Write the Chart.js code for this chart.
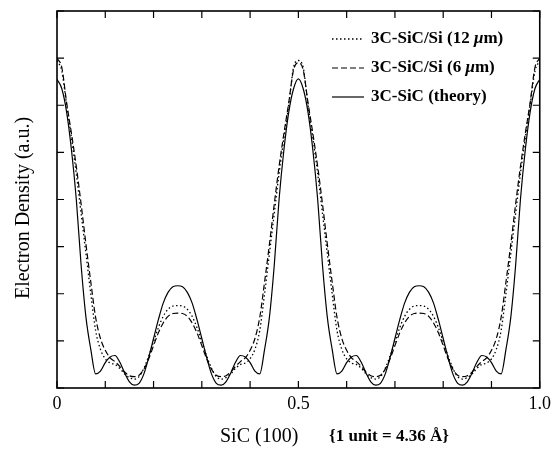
<!DOCTYPE html>
<html><head><meta charset="utf-8">
<script src="https://cdn.jsdelivr.net/npm/chart.js@4.4.0/dist/chart.umd.min.js"></script>
<style>html,body{margin:0;padding:0;background:#fff;}</style>
</head><body>
<canvas id="c" width="556" height="451"></canvas>
<script>
const xValues = [0.00,0.01,0.02,0.03,0.04,0.05,0.06,0.07,0.08,0.09,0.10,0.11,0.12,0.13,0.14,0.15,0.16,0.17,0.18,0.19,0.20,0.21,0.22,0.23,0.24,0.25,0.26,0.27,0.28,0.29,0.30,0.31,0.32,0.33,0.34,0.35,0.36,0.37,0.38,0.39,0.40,0.41,0.42,0.43,0.44,0.45,0.46,0.47,0.48,0.49,0.50,0.51,0.52,0.53,0.54,0.55,0.56,0.57,0.58,0.59,0.60,0.61,0.62,0.63,0.64,0.65,0.66,0.67,0.68,0.69,0.70,0.71,0.72,0.73,0.74,0.75,0.76,0.77,0.78,0.79,0.80,0.81,0.82,0.83,0.84,0.85,0.86,0.87,0.88,0.89,0.90,0.91,0.92,0.93,0.94,0.95,0.96,0.97,0.98,0.99,1.00];
const theory = [6.55,6.35,5.85,5.05,4.00,2.60,1.50,0.82,0.30,0.36,0.54,0.66,0.69,0.55,0.32,0.13,0.06,0.10,0.30,0.65,1.05,1.45,1.80,2.03,2.15,2.17,
 2.15,2.03,1.80,1.45,1.05,0.65,0.30,0.10,0.06,0.13,0.32,0.55,0.69,0.66,0.54,0.36,0.30,0.82,1.50,2.60,4.00,5.05,5.85,6.35,6.56,
 6.35,5.85,5.05,4.00,2.60,1.50,0.82,0.30,0.36,0.54,0.66,0.69,0.55,0.32,0.13,0.06,0.10,0.30,0.65,1.05,1.45,1.80,2.03,2.15,2.17,
 2.15,2.03,1.80,1.45,1.05,0.65,0.30,0.10,0.06,0.13,0.32,0.55,0.69,0.66,0.54,0.36,0.30,0.82,1.50,2.60,4.00,5.05,5.85,6.35,6.55];
const film6 = [7.00,6.80,6.05,5.40,4.70,3.90,3.05,2.25,1.50,1.05,0.80,0.64,0.56,0.46,0.34,0.26,0.24,0.27,0.40,0.62,0.90,1.17,1.38,1.52,1.58,1.59,
 1.58,1.52,1.38,1.17,0.90,0.62,0.40,0.27,0.24,0.26,0.34,0.46,0.56,0.64,0.80,1.05,1.50,2.25,3.05,3.90,4.70,5.40,6.05,6.75,6.90,
 6.75,6.05,5.40,4.70,3.90,3.05,2.25,1.50,1.05,0.80,0.64,0.56,0.46,0.34,0.26,0.24,0.27,0.40,0.62,0.90,1.17,1.38,1.52,1.58,1.59,
 1.58,1.52,1.38,1.17,0.90,0.62,0.40,0.27,0.24,0.26,0.34,0.46,0.56,0.64,0.80,1.05,1.50,2.25,3.05,3.90,4.70,5.40,6.05,6.80,7.00];
const film12 = [6.95,6.72,6.00,5.30,4.55,3.70,2.85,2.00,1.22,0.82,0.62,0.53,0.50,0.42,0.30,0.22,0.19,0.24,0.42,0.68,0.98,1.28,1.52,1.67,1.74,1.75,
 1.74,1.67,1.52,1.28,0.98,0.68,0.42,0.24,0.19,0.22,0.30,0.42,0.50,0.53,0.62,0.82,1.22,2.00,2.85,3.70,4.55,5.30,6.00,6.80,6.95,
 6.80,6.00,5.30,4.55,3.70,2.85,2.00,1.22,0.82,0.62,0.53,0.50,0.42,0.30,0.22,0.19,0.24,0.42,0.68,0.98,1.28,1.52,1.67,1.74,1.75,
 1.74,1.67,1.52,1.28,0.98,0.68,0.42,0.24,0.19,0.22,0.30,0.42,0.50,0.53,0.62,0.82,1.22,2.00,2.85,3.70,4.55,5.30,6.00,6.72,6.95];
const xTickValues = [0, 0.5, 1];
const xTickLabels = ['0', '0.5', '1.0'];
const seriesLabels = ['3C-SiC/Si (12 μm)', '3C-SiC/Si (6 μm)', '3C-SiC (theory)'];
const yAxisTitle = 'Electron Density (a.u.)';
const xAxisTitleParts = ['SiC (100)', '{1 unit = 4.36 Å}'];

const FAM = "'Liberation Serif','Times New Roman',Times,serif";
const toPts = arr => arr.map((v, i) => ({x: xValues[i], y: v}));

const framePlugin = {
  id: 'frame',
  afterDraw(chart) {
    const {ctx, chartArea: a, scales: {x, y}} = chart;
    ctx.save();
    ctx.strokeStyle = '#000';
    ctx.lineWidth = 1.6;
    ctx.setLineDash([]);
    ctx.strokeRect(a.left, a.top, a.right - a.left, a.bottom - a.top);
    ctx.lineWidth = 1.2;
    ctx.beginPath();
    x.ticks.forEach(t => {
      const px = x.getPixelForValue(t.value);
      ctx.moveTo(px, a.bottom); ctx.lineTo(px, a.bottom - 7);
      ctx.moveTo(px, a.top); ctx.lineTo(px, a.top + 7);
    });
    y.ticks.forEach(t => {
      const py = y.getPixelForValue(t.value);
      ctx.moveTo(a.left, py); ctx.lineTo(a.left + 7, py);
      ctx.moveTo(a.right, py); ctx.lineTo(a.right - 7, py);
    });
    ctx.stroke();

    // legend (inside plot, top right)
    const rowY = [39, 68, 97];
    chart.data.datasets.forEach((ds, i) => {
      const yy = rowY[i];
      ctx.beginPath();
      ctx.lineWidth = ds.borderWidth;
      ctx.setLineDash(ds.borderDash || []);
      ctx.moveTo(332, yy); ctx.lineTo(364, yy);
      ctx.stroke();
      ctx.setLineDash([]);
      ctx.fillStyle = '#000';
      ctx.textBaseline = 'middle';
      ctx.textAlign = 'left';
      const parts = ds.label.split('μ');
      let tx = 371;
      ctx.font = 'bold 17px ' + FAM;
      ctx.fillText(parts[0], tx, yy);
      tx += ctx.measureText(parts[0]).width;
      if (parts.length > 1) {
        ctx.font = 'italic bold 17px ' + FAM;
        ctx.fillText('μ', tx, yy);
        tx += ctx.measureText('μ').width;
        ctx.font = 'bold 17px ' + FAM;
        ctx.fillText(parts[1], tx, yy);
      }
    });

    // y axis title
    ctx.fillStyle = '#000';
    ctx.save();
    ctx.translate(24, 208);
    ctx.rotate(-Math.PI / 2);
    ctx.textAlign = 'center';
    ctx.textBaseline = 'middle';
    ctx.font = '20px ' + FAM;
    ctx.fillText(yAxisTitle, 0, 0);
    ctx.restore();

    // x axis title
    ctx.textBaseline = 'middle';
    ctx.textAlign = 'left';
    ctx.font = '20px ' + FAM;
    ctx.fillText(xAxisTitleParts[0], 220, 437);
    ctx.font = 'bold 17px ' + FAM;
    ctx.fillText(xAxisTitleParts[1], 329, 437);
    ctx.restore();
  }
};

new Chart(document.getElementById('c'), {
  type: 'line',
  data: {
    datasets: [
      {label: seriesLabels[0], data: toPts(film12), borderColor: '#000', borderWidth: 1.3, borderDash: [1.5, 2.5]},
      {label: seriesLabels[1], data: toPts(film6), borderColor: '#000', borderWidth: 1.2, borderDash: [6, 3]},
      {label: seriesLabels[2], data: toPts(theory), borderColor: '#000', borderWidth: 1.2}
    ]
  },
  options: {
    responsive: false, animation: false, devicePixelRatio: 1,
    layout: {padding: {left: 57, right: 14, top: 11, bottom: 31.4}},
    plugins: {legend: {display: false}, tooltip: {enabled: false}},
    elements: {point: {radius: 0}, line: {cubicInterpolationMode: 'monotone', fill: false}},
    scales: {
      x: {
        type: 'linear', min: 0, max: 1,
        grid: {display: false, drawTicks: false}, border: {display: false},
        ticks: {
          stepSize: 0.1, autoSkip: false, maxRotation: 0, padding: 5, color: '#000',
          font: {family: FAM, size: 18},
          callback: v => {
            const k = xTickValues.findIndex(t => Math.abs(t - v) < 1e-6);
            return k >= 0 ? xTickLabels[k] : '';
          }
        }
      },
      y: {
        type: 'linear', min: 0, max: 8, display: true,
        grid: {display: false, drawTicks: false}, border: {display: false},
        ticks: {display: false, stepSize: 1},
        title: {display: false}
      }
    }
  },
  plugins: [framePlugin]
});
</script>
</body></html>
